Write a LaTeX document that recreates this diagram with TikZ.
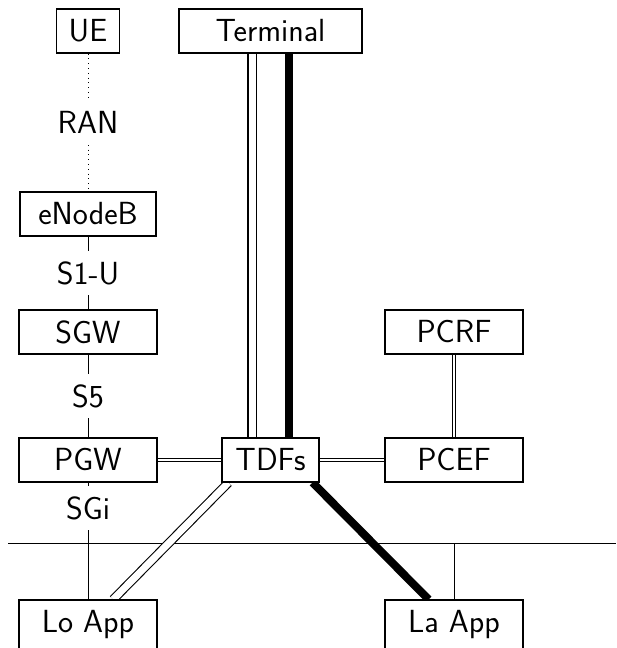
\documentclass[tikz,border=0pt]{standalone}
\usetikzlibrary{backgrounds}
\begin{document}
\begin{tikzpicture}[x=0.5pt,y=-0.5pt,
    every node/.style={font=\sffamily\fontsize{16}{19}\selectfont,minimum height=22pt,inner sep=0pt},
    box/.style={draw,fill=white,line width=0.55pt},
    lbl/.style={fill=white,inner xsep=2pt},
    dbl/.style={double,double distance=3.5pt,line width=0.55pt},
    sdbl/.style={double,double distance=1pt,line width=0.55pt},
    fat/.style={line width=4pt}]
  \useasboundingbox (0,0) rectangle (616,648);

  \path (88,31) node[box,minimum width=31.5pt] (UE) {UE};
  \path (270.5,31) node[box,minimum width=91.5pt] (Terminal) {Terminal};
  \path (88,214) node[box,minimum width=68pt] (eNodeB) {eNodeB};
  \path (88,332) node[box,minimum width=69pt] (SGW) {SGW};
  \path (454,332) node[box,minimum width=69pt] (PCRF) {PCRF};
  \path (88,460) node[box,minimum width=69pt] (PGW) {PGW};
  \path (270.5,460) node[box,minimum width=48.5pt] (TDFs) {TDFs};
  \path (454,460) node[box,minimum width=69pt] (PCEF) {PCEF};
  \path (88,625) node[box,minimum width=69pt,minimum height=25pt] (LoApp) {Lo App};
  \path (454,625) node[box,minimum width=69pt,minimum height=25pt] (LaApp) {La App};

  \coordinate (ruleL) at (8,543);
  \coordinate (ruleR) at (616,543);

  \begin{scope}[on background layer]
    \draw[dotted] (UE) -- node[lbl]{RAN} (eNodeB);
    \draw (eNodeB) -- node[lbl]{S1-U} (SGW);
    \draw (SGW) -- node[lbl]{S5} (PGW);
    \draw (PGW) -- node[lbl,pos=0.22]{SGi} (LoApp);
    \draw (ruleL) -- (ruleR);
    \draw (LaApp) -- (LaApp |- ruleL);
    \draw[dbl] ([xshift=-9.25pt]Terminal.south) -- ([xshift=-9.25pt]TDFs.north);
    \draw[fat] ([xshift=9.25pt]Terminal.south) -- ([xshift=9.25pt]TDFs.north);
    \draw[sdbl] (PGW) -- (TDFs);
    \draw[sdbl] (TDFs) -- (PCEF);
    \draw[sdbl] (PCRF) -- (PCEF);
    \draw[dbl] ([xshift=3.5pt]TDFs.south west) -- (LoApp);
    \draw[fat] ([xshift=-3.5pt]TDFs.south east) -- (LaApp);
  \end{scope}
\end{tikzpicture}
\end{document}
